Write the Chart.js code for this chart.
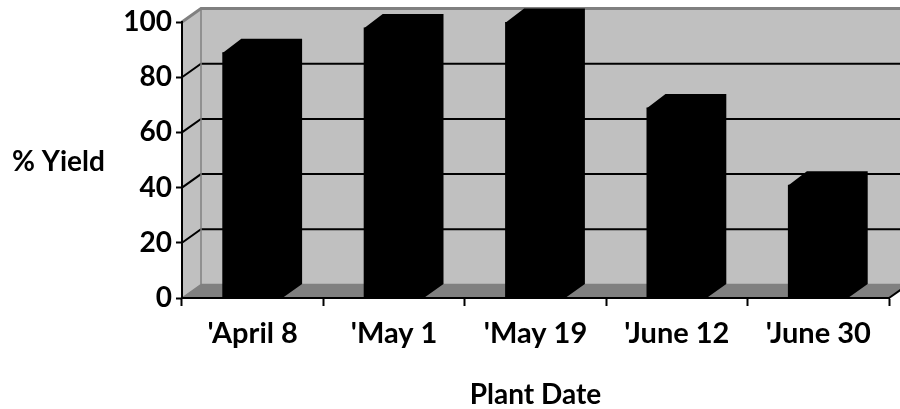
<!DOCTYPE html>
<html lang="en">
<head>
  <meta charset="UTF-8" />
  <title>% Yield by Plant Date</title>
  <script src="https://cdn.jsdelivr.net/npm/chart.js"></script>
  <style>
    body {
      margin: 0;
      background: #ffffff;
    }
    .chart-box {
      width: 900px;
      height: 409px;
    }
  </style>
</head>
<body>
  <div class="chart-box">
    <canvas id="yieldChart"></canvas>
  </div>

  <script>
    // data
    const plantDates = ["'April 8", "'May 1", "'May 19", "'June 12", "'June 30"];
    const yieldValues = [89, 98, 100, 69, 41];
    const yTickValues = [0, 20, 40, 60, 80, 100];

    // fake 3D depth (px)
    const depthX = 19;
    const depthY = 13.5;
    const font = "Lato";

    const wall3d = {
      id: "wall3d",
      beforeDraw(chart) {
        const { ctx, chartArea: a, scales: { y } } = chart;
        ctx.save();
        // side wall + back wall
        ctx.fillStyle = "#c0c0c0";
        ctx.beginPath();
        ctx.moveTo(a.left, a.top);
        ctx.lineTo(a.left + depthX, a.top - depthY);
        ctx.lineTo(a.right + depthX, a.top - depthY);
        ctx.lineTo(a.right + depthX, a.bottom - depthY);
        ctx.lineTo(a.left, a.bottom);
        ctx.closePath();
        ctx.fill();
        // floor
        ctx.fillStyle = "#808080";
        ctx.beginPath();
        ctx.moveTo(a.left, a.bottom);
        ctx.lineTo(a.right, a.bottom);
        ctx.lineTo(a.right + depthX, a.bottom - depthY);
        ctx.lineTo(a.left + depthX, a.bottom - depthY);
        ctx.closePath();
        ctx.fill();
        // gridlines on side and back wall
        ctx.strokeStyle = "#000";
        ctx.lineWidth = 2;
        yTickValues.forEach(v => {
          if (v === 0 || v === 100) return;
          const py = y.getPixelForValue(v);
          ctx.beginPath();
          ctx.moveTo(a.left, py);
          ctx.lineTo(a.left + depthX, py - depthY);
          ctx.lineTo(a.right + depthX, py - depthY);
          ctx.stroke();
        });
        // wall edges
        ctx.strokeStyle = "#808080";
        ctx.lineWidth = 3;
        ctx.beginPath();
        ctx.moveTo(a.left, a.top);
        ctx.lineTo(a.left + depthX, a.top - depthY);
        ctx.lineTo(a.right + depthX, a.top - depthY);
        ctx.stroke();
        ctx.lineWidth = 1.5;
        ctx.beginPath();
        ctx.moveTo(a.left + depthX, a.top - depthY);
        ctx.lineTo(a.left + depthX, a.bottom - depthY);
        ctx.lineTo(a.right + depthX, a.bottom - depthY);
        ctx.moveTo(a.left, a.bottom);
        ctx.lineTo(a.left + depthX, a.bottom - depthY);
        ctx.stroke();
        ctx.strokeStyle = "#000";
        ctx.lineWidth = 2;
        ctx.beginPath();
        ctx.moveTo(a.right, a.bottom);
        ctx.lineTo(a.right + depthX, a.bottom - depthY);
        ctx.stroke();
        // y axis title, horizontal
        ctx.fillStyle = "#000";
        ctx.font = "bold 28px " + font;
        ctx.textAlign = "left";
        ctx.textBaseline = "alphabetic";
        ctx.fillText("% Yield", 12, 171);
        ctx.restore();
      },
      afterDatasetsDraw(chart) {
        const { ctx } = chart;
        const meta = chart.getDatasetMeta(0);
        ctx.save();
        ctx.fillStyle = "#000";
        meta.data.forEach(bar => {
          const p = bar.getProps(["x", "y", "base", "width"], true);
          const l = p.x - p.width / 2;
          const r = p.x + p.width / 2;
          // top + side face, overlapping the front face a little so no seam shows
          ctx.beginPath();
          ctx.moveTo(l, p.y + 1);
          ctx.lineTo(l + depthX, p.y - depthY);
          ctx.lineTo(r + depthX, p.y - depthY);
          ctx.lineTo(r + depthX, p.base - depthY);
          ctx.lineTo(r, p.base);
          ctx.lineTo(r - 1, p.base);
          ctx.lineTo(r - 1, p.y + 1);
          ctx.closePath();
          ctx.fill();
        });
        ctx.restore();
      }
    };

    new Chart(document.getElementById("yieldChart"), {
      type: "bar",
      data: {
        labels: plantDates,
        datasets: [{
          data: yieldValues,
          backgroundColor: "#000",
          borderWidth: 0,
          barPercentage: 0.43,
          categoryPercentage: 1
        }]
      },
      options: {
        responsive: true,
        maintainAspectRatio: false,
        animation: false,
        layout: {
          padding: { top: 22, right: 11, left: 0, bottom: 0 }
        },
        plugins: {
          legend: { display: false },
          tooltip: { enabled: false }
        },
        scales: {
          x: {
            afterFit: s => { s.height = 111; },
            grid: {
              offset: true,
              drawOnChartArea: false,
              tickLength: 8,
              tickColor: "#000",
              tickWidth: 2
            },
            border: { display: true, color: "#000", width: 2 },
            ticks: {
              color: "#000",
              padding: 10,
              maxRotation: 0,
              font: { family: font, size: 29, weight: "bold" }
            },
            title: {
              display: true,
              text: "Plant Date",
              color: "#000",
              padding: { top: 0, bottom: 0 },
              font: { family: font, size: 28, weight: "bold", lineHeight: 1 }
            }
          },
          y: {
            min: 0,
            max: 100,
            afterFit: s => { s.width = 182; },
            afterBuildTicks: s => { s.ticks = yTickValues.map(v => ({ value: v })); },
            grid: {
              drawOnChartArea: false,
              tickLength: 6,
              tickColor: "#000",
              tickWidth: 2
            },
            border: { display: true, color: "#000", width: 2 },
            ticks: {
              color: "#000",
              padding: 4,
              font: { family: font, size: 28, weight: "bold" }
            }
          }
        }
      },
      plugins: [wall3d]
    });
  </script>
</body>
</html>
